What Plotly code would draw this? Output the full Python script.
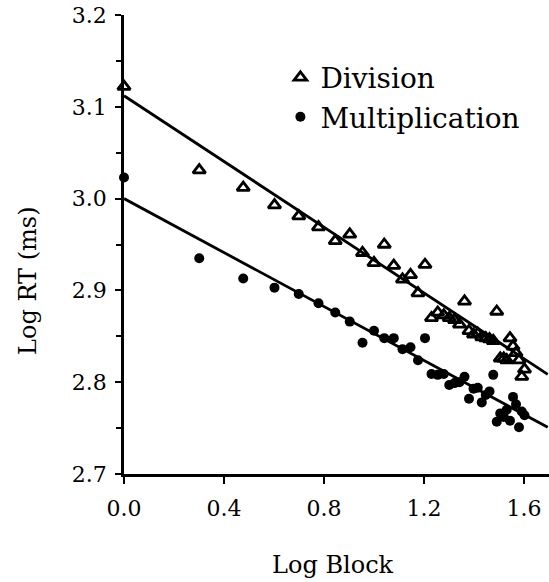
import plotly.graph_objects as go

# ---- data ----
log_block = [0.000, 0.301, 0.477, 0.602, 0.699, 0.778, 0.845, 0.903, 0.954, 1.000,
             1.041, 1.079, 1.114, 1.146, 1.176, 1.204, 1.230, 1.255, 1.279, 1.301,
             1.322, 1.342, 1.362, 1.380, 1.398, 1.415, 1.431, 1.447, 1.462, 1.477,
             1.491, 1.505, 1.519, 1.531, 1.544, 1.556, 1.568, 1.580, 1.591, 1.602]

division = [3.122, 3.031, 3.012, 2.993, 2.981, 2.969, 2.954, 2.961, 2.941, 2.930,
            2.950, 2.927, 2.912, 2.917, 2.897, 2.928, 2.870, 2.876, 2.873, 2.870,
            2.868, 2.863, 2.888, 2.856, 2.852, 2.853, 2.849, 2.848, 2.847, 2.845,
            2.877, 2.826, 2.826, 2.824, 2.848, 2.839, 2.832, 2.824, 2.806, 2.814]

multiplication = [3.023, 2.935, 2.913, 2.903, 2.896, 2.886, 2.876, 2.866, 2.843, 2.856,
                  2.848, 2.848, 2.836, 2.838, 2.824, 2.848, 2.809, 2.808, 2.809, 2.797,
                  2.799, 2.800, 2.806, 2.782, 2.793, 2.794, 2.778, 2.786, 2.790, 2.808,
                  2.757, 2.766, 2.762, 2.770, 2.758, 2.784, 2.776, 2.751, 2.768, 2.764]

# regression fits (intercept, slope)
division_fit = [3.112, -0.179]
multiplication_fit = [3.000, -0.147]
fit_x = [0.0, 1.695]

x_tickvals = [0.0, 0.4, 0.8, 1.2, 1.6]
x_ticktext = ["0.0", "0.4", "0.8", "1.2", "1.6"]
y_tickvals = [2.7, 2.8, 2.9, 3.0, 3.1, 3.2]
y_ticktext = ["2.7", "2.8", "2.9", "3.0", "3.1", "3.2"]

FONT = "DejaVu Serif"

fig = go.Figure()

fig.add_trace(go.Scatter(
    x=fit_x, y=[division_fit[0] + division_fit[1] * v for v in fit_x],
    mode="lines", line=dict(color="black", width=2.8), showlegend=False,
    hoverinfo="skip"))
fig.add_trace(go.Scatter(
    x=fit_x, y=[multiplication_fit[0] + multiplication_fit[1] * v for v in fit_x],
    mode="lines", line=dict(color="black", width=2.8), showlegend=False,
    hoverinfo="skip"))

fig.add_trace(go.Scatter(
    x=log_block, y=division, mode="markers", name="Division",
    marker=dict(symbol="triangle-up-open", size=11, color="black",
                line=dict(width=2.8, color="black")),
    cliponaxis=False))
fig.add_trace(go.Scatter(
    x=log_block, y=multiplication, mode="markers", name="Multiplication",
    marker=dict(symbol="circle", size=10, color="black"),
    cliponaxis=False))

fig.update_layout(
    width=549, height=582,
    margin=dict(l=124, r=0, t=15, b=108),
    paper_bgcolor="white", plot_bgcolor="white",
    font=dict(family=FONT, color="black"),
    showlegend=True,
    legend=dict(x=0.368, y=0.918, xanchor="left", yanchor="top",
                font=dict(family=FONT, size=28, color="black"),
                bgcolor="rgba(0,0,0,0)", tracegroupgap=0),
    xaxis=dict(range=[0, 1.70], showgrid=False, zeroline=False,
               showline=True, linecolor="black", linewidth=2.5,
               ticks="outside", ticklen=7, tickwidth=2, tickcolor="black",
               tickvals=x_tickvals, ticktext=x_ticktext,
               tickfont=dict(family=FONT, size=22, color="black"),
               ticklabelstandoff=6),
    yaxis=dict(range=[2.7, 3.2], showgrid=False, zeroline=False,
               showline=True, linecolor="black", linewidth=2.5,
               ticks="outside", ticklen=6, tickwidth=2, tickcolor="black",
               tickvals=y_tickvals, ticktext=y_ticktext,
               tickfont=dict(family=FONT, size=22, color="black"),
               minor=dict(dtick=0.05, ticks="outside", ticklen=5,
                          tickwidth=2, tickcolor="black", showgrid=False),
               ticklabelstandoff=4),
    annotations=[
        dict(text="Log Block", xref="paper", yref="paper", x=0.492, y=-0.198,
             xanchor="center", yanchor="middle", showarrow=False,
             font=dict(family=FONT, size=24, color="black")),
        dict(text="Log RT (ms)", xref="paper", yref="paper", x=-0.226, y=0.4205,
             xanchor="center", yanchor="middle", showarrow=False, textangle=-90,
             font=dict(family=FONT, size=24, color="black")),
    ],
)

fig.write_html(
    "out.html",
    config={"displayModeBar": False},
    post_script="document.body.style.margin='0';document.body.style.padding='0';"
                "document.body.style.overflow='hidden';"
                "document.documentElement.style.overflow='hidden';",
)
